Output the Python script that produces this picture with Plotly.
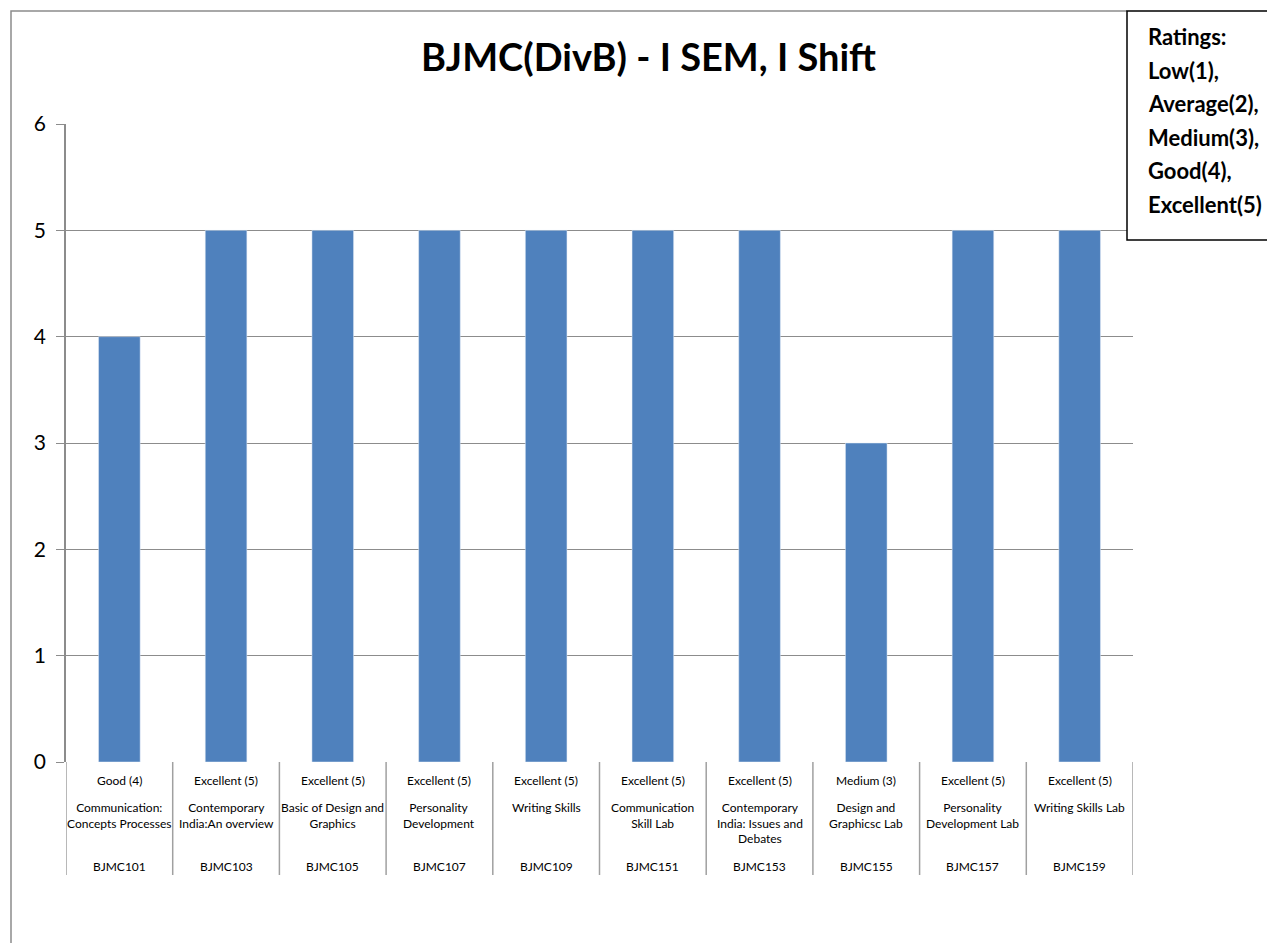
import plotly.graph_objects as go

codes = ["BJMC101", "BJMC103", "BJMC105", "BJMC107", "BJMC109",
         "BJMC151", "BJMC153", "BJMC155", "BJMC157", "BJMC159"]
subjects = ["Communication:<br>Concepts Processes", "Contemporary<br>India:An overview",
            "Basic of Design and<br>Graphics", "Personality<br>Development", "Writing Skills",
            "Communication<br>Skill Lab", "Contemporary<br>India: Issues and<br>Debates",
            "Design and<br>Graphicsc Lab", "Personality<br>Development Lab", "Writing Skills Lab"]
ratings = ["Good (4)", "Excellent (5)", "Excellent (5)", "Excellent (5)", "Excellent (5)",
           "Excellent (5)", "Excellent (5)", "Medium (3)", "Excellent (5)", "Excellent (5)"]
scores = [4, 5, 5, 5, 5, 5, 5, 3, 5, 5]
legend_lines = ["Ratings:", "Low(1),", "Average(2),", "Medium(3),", "Good(4),", "Excellent(5)"]

# page has an 8px body margin, so the figure is drawn 8px smaller and coords shifted
OFF = 8
W, H = 1275 - OFF, 943 - OFF
L, R, T, B = 66, 1133, 124, 762  # plot area in page pixels
FONT = "Lato"


def px_x(p):
    return (p - L) / (R - L)


def px_y(p):
    return (B - p) / (B - T)


xs = list(range(len(codes)))
fig = go.Figure(go.Bar(x=xs, y=scores, marker_color="#4F81BD", width=0.39))

# outer chart border (left and top only visible)
fig.add_shape(type="path", xref="paper", yref="paper",
              path=f"M {px_x(11)},{px_y(960)} L {px_x(11)},{px_y(11)} L {px_x(1127)},{px_y(11)}",
              line=dict(color="#8c8c8c", width=1.5))

# category table below axis
for i in range(len(codes) + 1):
    fig.add_shape(type="line", xref="x", yref="paper", x0=i - 0.5, x1=i - 0.5,
                  y0=0, y1=px_y(875), line=dict(color="#a0a0a0", width=1.5))

lab_font = dict(size=12, family=FONT, color="#000")
for i in xs:
    fig.add_annotation(x=i, y=px_y(771), xref="x", yref="paper", text=ratings[i],
                       showarrow=False, xanchor="center", yanchor="top", font=lab_font)
    fig.add_annotation(x=i, y=px_y(798), xref="x", yref="paper", text=subjects[i],
                       showarrow=False, xanchor="center", yanchor="top", font=lab_font)
    fig.add_annotation(x=i, y=px_y(857), xref="x", yref="paper", text=codes[i],
                       showarrow=False, xanchor="center", yanchor="top", font=lab_font)

# title
fig.add_annotation(x=px_x(648), y=px_y(56), xref="paper", yref="paper",
                   text="<b>BJMC(DivB) - I SEM, I Shift</b>", showarrow=False,
                   xanchor="center", yanchor="middle",
                   font=dict(size=38, family=FONT, color="#000"))

# ratings box
fig.add_shape(type="rect", xref="paper", yref="paper",
              x0=px_x(1127), x1=px_x(1290), y0=px_y(240), y1=px_y(11),
              line=dict(color="#000", width=1.5), fillcolor="white")
for k, line in enumerate(legend_lines):
    fig.add_annotation(x=px_x(1146), y=px_y(37 + k * 33.4), xref="paper", yref="paper",
                       text=f"<b>{line}</b>", showarrow=False, xanchor="left", yanchor="middle",
                       font=dict(size=22, family=FONT, color="#000"))

fig.update_layout(
    width=W, height=H,
    margin=dict(l=L - OFF, r=W - (R - OFF), t=T - OFF, b=H - (B - OFF)),
    plot_bgcolor="white", paper_bgcolor="white",
    showlegend=False,
    xaxis=dict(range=[-0.5, len(codes) - 0.5], showticklabels=False, showgrid=False,
               zeroline=False, showline=False, ticks=""),
    yaxis=dict(range=[0, 6], dtick=1, showgrid=True, gridcolor="#8c8c8c", gridwidth=1,
               zeroline=False, showline=True, linecolor="#8c8c8c", linewidth=1.5,
               ticks="outside", ticklen=8, tickcolor="#8c8c8c", ticklabelstandoff=6,
               tickfont=dict(size=21, family=FONT, color="#000")),
)
fig.write_html("out.html")
